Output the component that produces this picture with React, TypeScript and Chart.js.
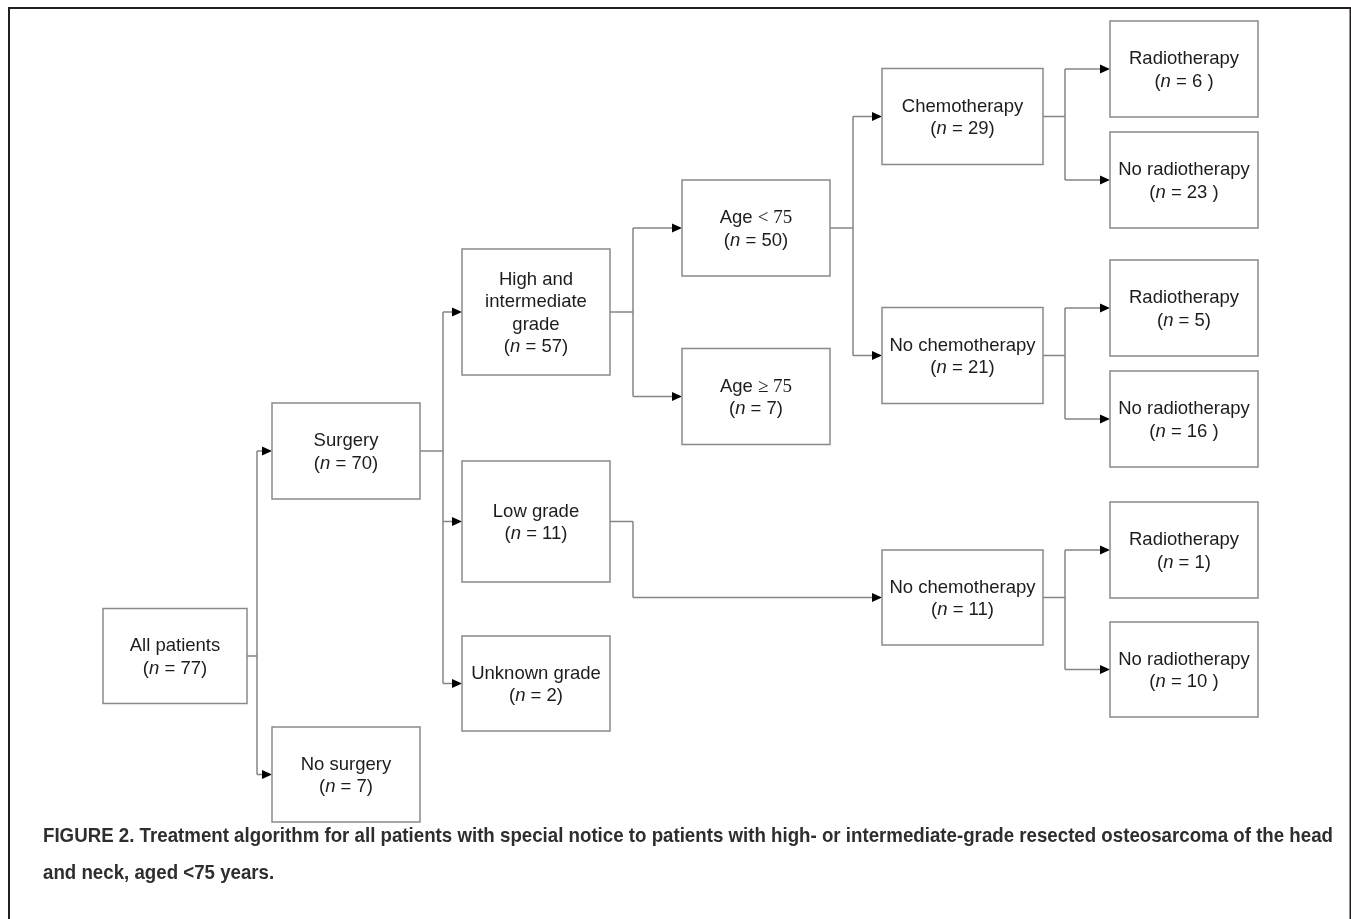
import { useEffect, useRef } from "react";
import { Chart, registerables } from "chart.js";

Chart.register(...registerables);

// ---- Flowchart content ----
const nodeNames: string[] = [
  "All patients",
  "Surgery",
  "No surgery",
  "High and\nintermediate\ngrade",
  "Low grade",
  "Unknown grade",
  "Age ~< 75~",
  "Age ~≥ 75~",
  "Chemotherapy",
  "No chemotherapy",
  "No chemotherapy",
  "Radiotherapy",
  "No radiotherapy",
  "Radiotherapy",
  "No radiotherapy",
  "Radiotherapy",
  "No radiotherapy",
];
const nodeCounts: number[] = [77, 70, 7, 57, 11, 2, 50, 7, 29, 21, 11, 6, 23, 5, 16, 1, 10];
const countClosers: string[] = [")", ")", ")", ")", ")", ")", ")", ")", ")", ")", ")", " )", " )", ")", " )", ")", " )"];
const nodeParents: number[] = [-1, 0, 0, 1, 1, 1, 3, 3, 6, 6, 4, 8, 8, 9, 9, 10, 10];
const nodeLevels: number[] = [0, 1, 1, 2, 2, 2, 3, 3, 4, 4, 4, 5, 5, 5, 5, 5, 5];
// vertical position of each box centre and its height, in axis units
const nodeRowY: number[] = [656, 451, 774.5, 312, 521.5, 683.5, 228, 396.5, 116.5, 355.5, 597.5, 69, 180, 308, 419, 550, 669.5];
const nodeRowH: number[] = [95, 96, 95, 126, 121, 95, 96, 96, 96, 96, 95, 96, 96, 96, 96, 96, 95];

const captionLines: string[] = [
  "FIGURE 2. Treatment algorithm for all patients with special notice to patients with high- or intermediate-grade resected osteosarcoma of the head",
  "and neck, aged <75 years.",
];

// ---- Layout (axis units) ----
const W = 1351;
const H = 919;
const colLeft = [103, 272, 462, 682, 882, 1110];
const colWidth = [144, 148, 148, 148, 161, 148];
const busGap = [10, 23, 23, 23, 22];

const SANS = '"Liberation Sans", Arial, sans-serif';
const SERIF = '"Liberation Serif", "Times New Roman", serif';
const FS = 18.5;
const LINE_H = 22.5;

type Run = { t: string; font: string };

function parseRuns(s: string): Run[] {
  const parts = s.split(/(\*[^*]+\*|~[^~]+~)/).filter((p) => p.length > 0);
  return parts.map((p) => {
    if (p.startsWith("*")) return { t: p.slice(1, -1), font: `italic ${FS}px ${SANS}` };
    if (p.startsWith("~")) return { t: p.slice(1, -1), font: `19px ${SERIF}` };
    return { t: p, font: `${FS}px ${SANS}` };
  });
}

const flowPlugin = {
  id: "flowchart",
  beforeDraw(chart: any) {
    const ctx = chart.ctx as CanvasRenderingContext2D;
    ctx.save();
    ctx.fillStyle = "#ffffff";
    ctx.fillRect(0, 0, chart.width, chart.height);
    ctx.restore();
  },
  afterDatasetsDraw(chart: any) {
    const ctx = chart.ctx as CanvasRenderingContext2D;
    const xs = chart.scales.x;
    const ys = chart.scales.y;
    const px = (v: number) => xs.getPixelForValue(v);
    const py = (v: number) => ys.getPixelForValue(v);

    ctx.save();
    // outer frame
    ctx.strokeStyle = "#231f20";
    ctx.lineWidth = 2;
    ctx.beginPath();
    ctx.moveTo(9, chart.height);
    ctx.lineTo(9, 8);
    ctx.lineTo(1350.5, 8);
    ctx.lineTo(1350.5, chart.height);
    ctx.stroke();

    // connectors
    ctx.strokeStyle = "#858585";
    ctx.lineWidth = 1.5;
    const parents = Array.from(new Set(nodeParents.filter((p) => p >= 0)));
    parents.forEach((p) => {
      const lvl = nodeLevels[p];
      const right = colLeft[lvl] + colWidth[lvl];
      const bx = right + busGap[lvl];
      const y0 = nodeRowY[p];
      const kids = nodeParents.map((q, i) => (q === p ? i : -1)).filter((i) => i >= 0);
      const kidYs = kids.map((k) => nodeRowY[k]);
      const yMin = Math.min(y0, ...kidYs);
      const yMax = Math.max(y0, ...kidYs);
      ctx.beginPath();
      ctx.moveTo(px(right), py(y0));
      ctx.lineTo(px(bx), py(y0));
      ctx.moveTo(px(bx), py(yMin));
      ctx.lineTo(px(bx), py(yMax));
      kids.forEach((k) => {
        const kl = colLeft[nodeLevels[k]];
        ctx.moveTo(px(bx), py(nodeRowY[k]));
        ctx.lineTo(px(kl - 9), py(nodeRowY[k]));
      });
      ctx.stroke();
      // arrowheads
      ctx.fillStyle = "#000000";
      kids.forEach((k) => {
        const kl = colLeft[nodeLevels[k]];
        const tipX = px(kl);
        const cy = py(nodeRowY[k]);
        ctx.beginPath();
        ctx.moveTo(tipX, cy);
        ctx.lineTo(tipX - 10, cy - 4.5);
        ctx.lineTo(tipX - 10, cy + 4.5);
        ctx.closePath();
        ctx.fill();
      });
    });

    // boxes and labels
    nodeNames.forEach((name, i) => {
      const lvl = nodeLevels[i];
      const left = px(colLeft[lvl]);
      const right = px(colLeft[lvl] + colWidth[lvl]);
      const top = py(nodeRowY[i] - nodeRowH[i] / 2);
      const bottom = py(nodeRowY[i] + nodeRowH[i] / 2);
      ctx.fillStyle = "#ffffff";
      ctx.fillRect(left, top, right - left, bottom - top);
      ctx.strokeStyle = "#8a8a8a";
      ctx.lineWidth = 1.5;
      ctx.strokeRect(left, top, right - left, bottom - top);

      const lines = [...name.split("\n"), `(*n* = ${nodeCounts[i]}${countClosers[i]}`];
      const cx = (left + right) / 2;
      const cy = py(nodeRowY[i]);
      ctx.fillStyle = "#1c1c1c";
      ctx.textBaseline = "alphabetic";
      ctx.textAlign = "left";
      lines.forEach((ln, j) => {
        const runs = parseRuns(ln);
        let total = 0;
        runs.forEach((r) => {
          ctx.font = r.font;
          total += ctx.measureText(r.t).width;
        });
        const lineCenter = cy + (j - (lines.length - 1) / 2) * LINE_H;
        const base = lineCenter + 6.6;
        let x = cx - total / 2;
        runs.forEach((r) => {
          ctx.font = r.font;
          ctx.fillText(r.t, x, base);
          x += ctx.measureText(r.t).width;
        });
      });
    });

    // caption
    ctx.fillStyle = "#2e2e2e";
    ctx.font = `bold 21px ${SANS}`;
    ctx.textAlign = "left";
    const w1 = ctx.measureText(captionLines[0]).width;
    const sx = 1290 / w1;
    const baselines = [842, 879];
    captionLines.forEach((ln, j) => {
      ctx.save();
      ctx.translate(43, baselines[j]);
      ctx.scale(sx, 1);
      ctx.fillText(ln, 0, 0);
      ctx.restore();
    });
    ctx.restore();
  },
};

export default function App() {
  const canvasRef = useRef<HTMLCanvasElement | null>(null);

  useEffect(() => {
    if (!canvasRef.current) return;
    const points = nodeRowY.map((y, i) => ({
      x: colLeft[nodeLevels[i]] + colWidth[nodeLevels[i]] / 2,
      y,
    }));
    const chart = new Chart(canvasRef.current, {
      type: "scatter",
      data: {
        datasets: [
          {
            label: "nodes",
            data: points,
            pointRadius: 0,
            pointHoverRadius: 0,
          },
        ],
      },
      options: {
        responsive: false,
        animation: false,
        layout: { padding: 0 },
        plugins: {
          legend: { display: false },
          tooltip: { enabled: false },
          title: { display: false },
        },
        scales: {
          x: { type: "linear", min: 0, max: W, display: false },
          y: { type: "linear", min: 0, max: H, reverse: true, display: false },
        },
        events: [],
      },
      plugins: [flowPlugin],
    });
    return () => chart.destroy();
  }, []);

  return (
    <div style={{ position: "fixed", left: 0, top: 0, width: W, height: H, background: "#fff" }}>
      <canvas ref={canvasRef} width={W} height={H} style={{ display: "block" }} />
    </div>
  );
}
